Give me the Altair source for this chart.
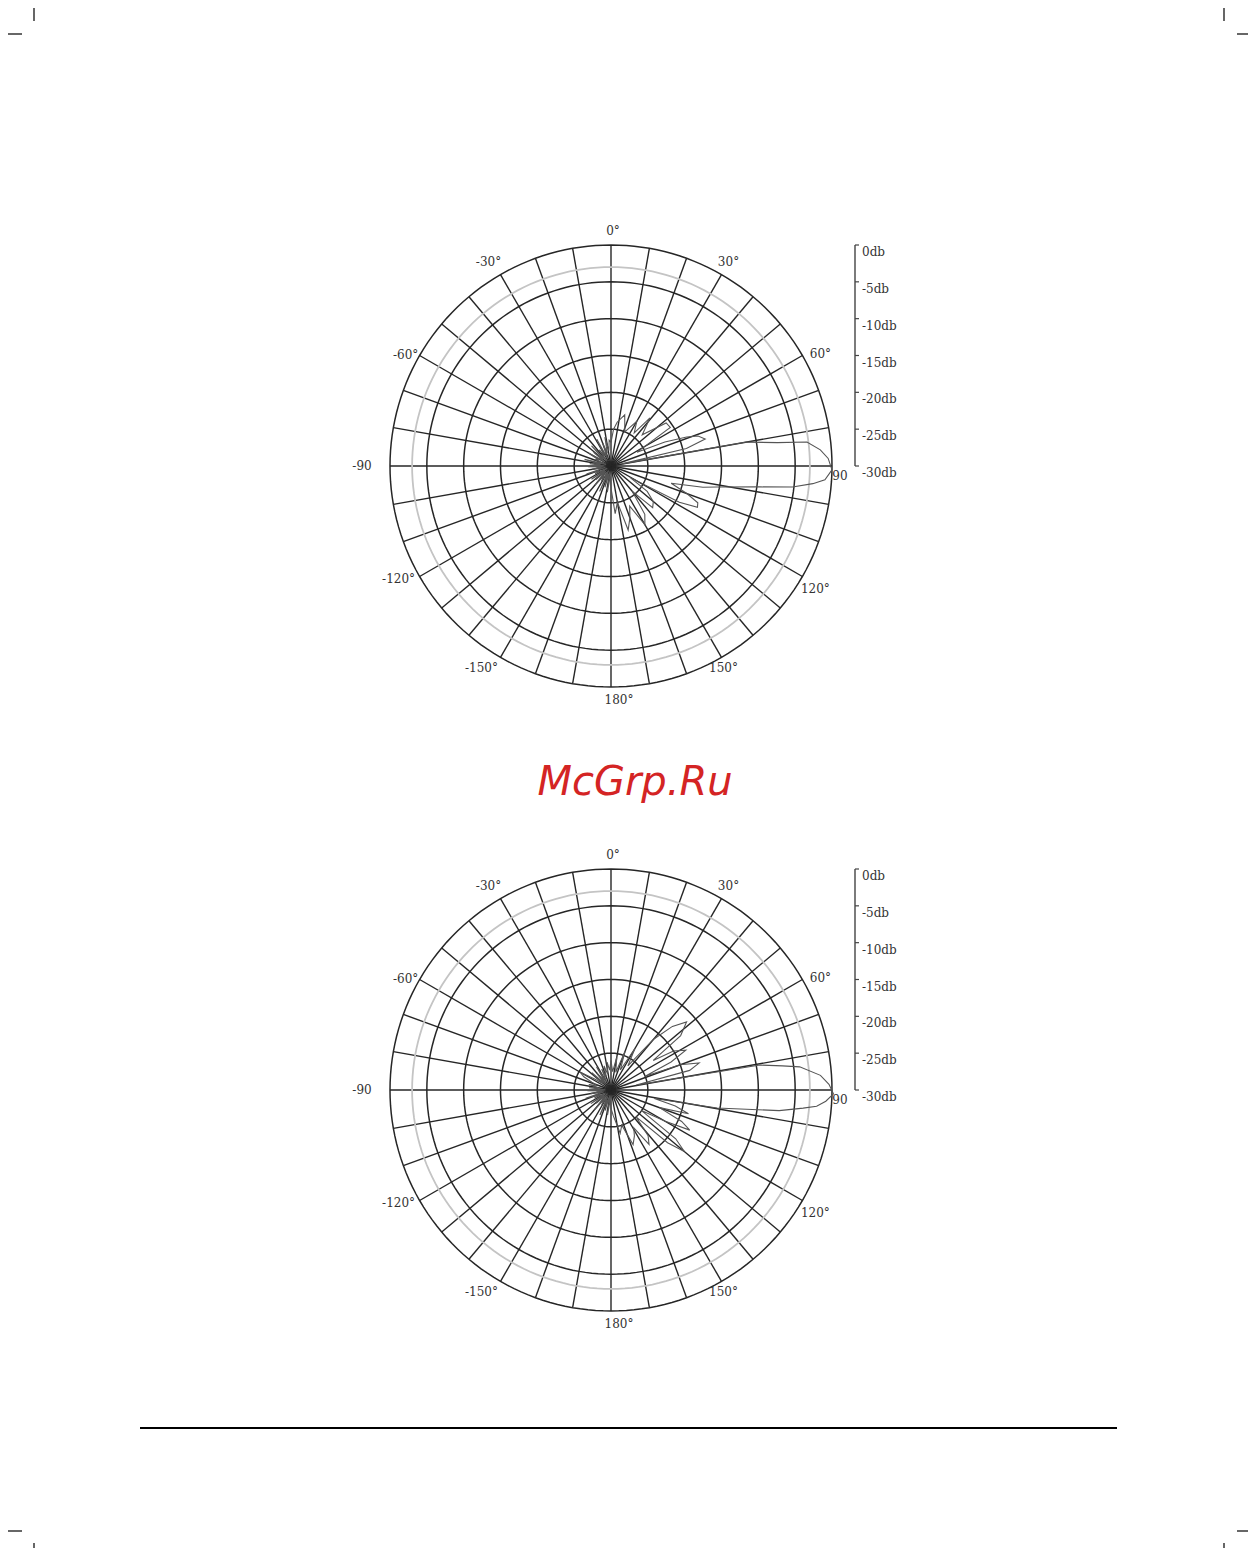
import altair as alt
import pandas as pd

# ---------------- data ----------------
ANGLE_LABEL_DEG = [0, 30, 60, 90, 120, 150, 180, 210, 240, 270, 300, 330]
ANGLE_LABELS = ["0°", "30°", "60°", "90", "120°", "150°", "180°", "-150°", "-120°", "-90", "-60°", "-30°"]
DB_TICKS = [0, -5, -10, -15, -20, -25, -30]
DB_LABELS = ["0db", "-5db", "-10db", "-15db", "-20db", "-25db", "-30db"]
GRID_LEVELS = [-25, -20, -15, -10, -5, 0]
HALF_POWER_LEVEL = [-3]
SPOKE_DEG = list(range(0, 360, 10))

# pattern 1 (upper diagram): azimuth (deg, clockwise from 0° at top) and level (dB)
P1_DEG = [0, 4, 8, 15, 22, 30, 35, 39, 45, 52, 57, 62, 66, 69, 71, 74, 77, 79,
          80, 82, 83, 85.6, 88, 91, 93.7, 95, 96.6, 98, 101.2, 103, 106, 110, 113, 115.5,
          118, 121, 125, 130, 135, 140, 145, 150, 155, 160, 165, 170, 175, 180,
          184, 188, 192, 196, 200, 204, 208, 212, 216, 220, 224, 228, 232, 236, 240,
          244, 248, 252, 256, 260, 264, 268, 272, 276, 280, 284, 288, 292, 296, 300,
          304, 308, 312, 316, 320, 324, 328, 332, 336, 340, 344, 348, 352, 356, 360]
P1_DB = [-26.8, -25.0, -24.0, -22.8, -25.0, -23.0, -24.5, -21.6, -24.0, -20.5, -20.4, -26.0, -22.0, -19.0, -17.5, -16.7, -19.5, -28.5,
         -11.3, -7.2, -3.2, -1.5, -0.5, 0.0, -0.9, -2.5, -5.2, -9.6, -15.3, -17.2, -21.5, -19.0, -17.2, -17.0,
         -19.5, -27.0, -24.0, -22.5, -22.0, -25.5, -22.0, -20.8, -24.0, -22.5, -21.0, -25.0, -23.5, -27.0,
         -28.6, -26.4, -29.1, -27.0, -28.8, -26.2, -29.3, -27.5, -28.4, -26.6, -29.0, -27.2, -28.9, -26.8, -29.4,
         -27.6, -28.3, -26.5, -29.2, -27.4, -28.7, -26.9, -29.0, -27.1, -28.5, -26.3, -29.3, -27.7, -28.1, -26.4,
         -28.9, -27.0, -28.6, -26.2, -29.1, -27.3, -28.4, -25.9, -28.8, -26.7, -28.2, -26.0, -27.9, -26.5, -26.8]

# pattern 2 (lower diagram)
P2_DEG = [0, 5, 10, 15, 20, 25, 30, 35, 40, 44, 48, 52, 55, 58, 62, 65, 68, 70, 73, 76, 79,
          80.5, 82, 83, 86, 88.5, 91, 93, 94.5, 95.4, 97, 99.6, 101, 104, 107, 110, 114, 117,
          120, 124, 127, 130, 133, 137, 141, 145, 149, 153, 158, 163, 168, 175, 180,
          184, 188, 192, 196, 200, 204, 208, 212, 216, 220, 224, 228, 232, 236, 240,
          244, 248, 252, 256, 260, 264, 268, 272, 276, 280, 284, 288, 292, 296, 300,
          304, 308, 312, 316, 320, 324, 328, 332, 336, 340, 344, 348, 352, 356, 360]
P2_DB = [-26.0, -27.5, -25.5, -27.5, -24.5, -27.0, -23.5, -26.0, -21.0, -18.0, -16.2, -18.0, -23.0, -20.0, -18.5, -21.0, -25.0, -20.0, -17.5, -19.0, -26.5,
         -9.5, -6.5, -4.2, -1.5, -0.4, 0.2, -0.8, -2.0, -3.8, -7.0, -15.4, -24.0, -21.0, -19.0, -23.0, -19.5, -18.0,
         -21.5, -25.0, -19.0, -17.0, -19.5, -25.0, -22.0, -21.0, -24.0, -23.0, -22.0, -25.0, -24.0, -26.5, -27.5,
         -28.7, -26.6, -29.2, -27.1, -28.6, -26.3, -29.0, -27.6, -28.5, -26.5, -29.3, -27.3, -28.8, -26.7, -29.1,
         -27.5, -28.4, -26.4, -29.0, -27.2, -28.8, -26.8, -29.2, -27.0, -28.3, -26.9, -28.0, -27.2, -25.9, -25.2,
         -27.4, -28.6, -26.5, -28.9, -27.0, -28.5, -26.3, -28.7, -26.9, -28.1, -26.6, -27.8, -26.2, -27.3, -26.0]

# ---------------- layout (page pixels) ----------------
CX = 611
CYS = [466, 1090]
R = 221
BAR_X = 855
PAGE_W, PAGE_H = 1240, 1540
# pixel nudge of each angle label away from its point on the outer circle (same order as ANGLE_LABELS)
LABEL_NUDGE_X = [2, 7, 18, 8, 13, 2, 8, -19, -21, -28, -14, -12]
LABEL_NUDGE_Y = [-14, -13, -2, 10, 12, 11, 13, 11, 2, 0, -1, -13]

xs = alt.Scale(domain=[8, 8 + PAGE_W], nice=False, zero=False)
ys = alt.Scale(domain=[8 + PAGE_H, 8], nice=False, zero=False)
X = lambda f: alt.X(f, type="quantitative", scale=xs, axis=None)
Y = lambda f: alt.Y(f, type="quantitative", scale=ys, axis=None)

POLX = f"{CX} + {R} * datum.rr * sin(datum.ang * PI / 180)"
POLY = f"datum.cy - {R} * datum.rr * cos(datum.ang * PI / 180)"

# tables built from the arrays above
spokes = pd.DataFrame([{"cy": cy, "key": f"{cy}-{a}", "ang": a, "rr": rr}
                       for cy in CYS for a in SPOKE_DEG for rr in (0, 1)])
circ_steps = list(range(0, 361, 2))
circles = pd.DataFrame([{"cy": cy, "key": f"{cy}-{lv}", "lev": lv, "ang": a}
                        for cy in CYS for lv in GRID_LEVELS for a in circ_steps])
half = pd.DataFrame([{"cy": cy, "key": f"{cy}-{lv}", "lev": lv, "ang": a}
                     for cy in CYS for lv in HALF_POWER_LEVEL for a in circ_steps])
pattern = pd.DataFrame(
    [{"cy": CYS[0], "key": "p1", "i": i, "ang": a, "db": d} for i, (a, d) in enumerate(zip(P1_DEG, P1_DB))]
    + [{"cy": CYS[1], "key": "p2", "i": i, "ang": a, "db": d} for i, (a, d) in enumerate(zip(P2_DEG, P2_DB))])
labels = pd.DataFrame([{"cy": cy, "ang": a, "txt": t, "nx": nx, "ny": ny}
                       for cy in CYS
                       for a, t, nx, ny in zip(ANGLE_LABEL_DEG, ANGLE_LABELS, LABEL_NUDGE_X, LABEL_NUDGE_Y)])
dbscale = pd.DataFrame([{"cy": cy, "db": d, "txt": t} for cy in CYS for d, t in zip(DB_TICKS, DB_LABELS)])
bars = pd.DataFrame([{"cy": cy, "top": DB_TICKS[0], "bot": DB_TICKS[-1]} for cy in CYS])

GRID_COLOR = "#262626"
TEXT_COLOR = "#333333"
TEXT_FONT = "DejaVu Serif"

spoke_layer = alt.Chart(spokes).transform_calculate(x=POLX, y=POLY).mark_line(
    color=GRID_COLOR, strokeWidth=1.4).encode(x=X("x"), y=Y("y"), detail="key:N", order="rr:Q")

circle_layer = alt.Chart(circles).transform_calculate(rr="(datum.lev + 30) / 30").transform_calculate(
    x=POLX, y=POLY).mark_line(color=GRID_COLOR, strokeWidth=1.5).encode(
    x=X("x"), y=Y("y"), detail="key:N", order="ang:Q")

half_layer = alt.Chart(half).transform_calculate(rr="(datum.lev + 30) / 30").transform_calculate(
    x=POLX, y=POLY).mark_line(color="#c4c4c4", strokeWidth=1.8).encode(
    x=X("x"), y=Y("y"), detail="key:N", order="ang:Q")

pattern_layer = alt.Chart(pattern).transform_calculate(rr="max(0, (datum.db + 30) / 30)").transform_calculate(
    x=POLX, y=POLY).mark_line(color="#555555", strokeWidth=1.1).encode(
    x=X("x"), y=Y("y"), detail="key:N", order="i:Q")

label_layer = alt.Chart(labels).transform_calculate(rr="1").transform_calculate(
    x0=POLX, y0=POLY).transform_calculate(x="datum.x0 + datum.nx", y="datum.y0 + datum.ny").mark_text(
    font=TEXT_FONT, fontSize=12, color=TEXT_COLOR, align="center", baseline="middle").encode(
    x=X("x"), y=Y("y"), text="txt:N")

bar_layer = alt.Chart(bars).transform_calculate(
    bx=str(BAR_X), y1=f"datum.cy - {R} * (datum.top + 30) / 30", y2=f"datum.cy - {R} * (datum.bot + 30) / 30"
).mark_rule(color="#444444", strokeWidth=1.4).encode(x=X("bx"), y=Y("y1"), y2="y2:Q")

tick_layer = alt.Chart(dbscale).transform_calculate(
    bx=str(BAR_X), bx2=str(BAR_X + 4), y=f"datum.cy - {R} * (datum.db + 30) / 30"
).mark_rule(color="#444444", strokeWidth=1.2).encode(x=X("bx"), x2="bx2:Q", y=Y("y"))

dblabel_layer = alt.Chart(dbscale).transform_calculate(
    tx=str(BAR_X + 7), y=f"datum.cy - {R} * (datum.db + 30) / 30"
).mark_text(font=TEXT_FONT, fontSize=12, color=TEXT_COLOR, align="left", baseline="middle", dy=7).encode(
    x=X("tx"), y=Y("y"), text="txt:N")

watermark = alt.Chart(pd.DataFrame({"t": ["McGrp.Ru"]})).mark_text(
    font="DejaVu Sans", fontStyle="italic", fontSize=40, color="#d42424", align="center", baseline="middle"
).encode(x=alt.value(635 - 8), y=alt.value(783 - 8), text="t:N")


def rule(x, x2, y, y2, w=1.2):
    return alt.Chart(pd.DataFrame({"k": [0]})).mark_rule(color="black", strokeWidth=w).encode(
        x=alt.value(x), x2=alt.value(x2), y=alt.value(y), y2=alt.value(y2))


decor = [
    rule(26, 26, 0, 13), rule(0, 14, 26, 26),
    rule(1216, 1216, 0, 13), rule(1229, 1240, 26, 26),
    rule(0, 14, 1523, 1523), rule(26, 26, 1535, 1540),
    rule(1229, 1240, 1523, 1523), rule(1216, 1216, 1535, 1540),
    rule(132, 1109, 1420, 1420, 2),
]

chart = alt.layer(
    spoke_layer, half_layer, circle_layer, pattern_layer, label_layer,
    bar_layer, tick_layer, dblabel_layer, watermark, *decor
).properties(width=PAGE_W, height=PAGE_H, padding=0, autosize="none").configure_view(strokeWidth=0)

chart.save("out.html", embed_options={"renderer": "svg", "actions": False})
